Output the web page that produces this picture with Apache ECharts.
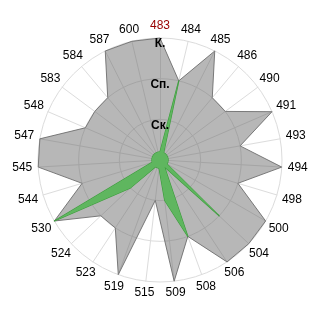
<!DOCTYPE html>
<html><head><meta charset="utf-8">
<script src="https://cdn.jsdelivr.net/npm/echarts@6/dist/echarts.min.js"></script>
<style>html,body{margin:0;padding:0;background:#fff;}#c{width:320px;height:320px;}</style>
</head><body><div id="c"></div>
<script>
// Indicators in clockwise order starting from the top
const categories = ['483','484','485','486','490','491','493','494','498','500','504','506','508','509','515','519','523','524','530','544','545','547','548','583','584','587','600'];
const zoneLabels = ['', 'Ск.', 'Сп.', 'К.'];
const greyValues = [3,2,3,2,2,3,2,3,2,3,3,3,2,3,1,3,2,2,3,2,3,3,2,2,2,3,3];
const greenValues = [0.2,2,0.2,0.2,0.2,0.2,0.2,0.2,0.2,0.2,2,0.2,2,1,0.2,0.2,0.2,1,3,0.2,0.2,0.2,0.2,0.2,0.2,0.2,0.2];
const highlighted = '483';
const maxValue = 3;

// ECharts places indicators counter-clockwise: reverse all but the first
function toCCW(arr) { return [arr[0]].concat(arr.slice(1).reverse()); }

const n = categories.length;
const FONT = 'Liberation Sans';
// distance of a centred name from the ring: more room sideways (wide text) than up/down
const GAP_X = 16, GAP_Y = 12;

function nameGapFor(clockwiseIndex) {
  const a = clockwiseIndex * 2 * Math.PI / n;
  const s = Math.sin(a), c = Math.cos(a);
  return GAP_X * s * s + GAP_Y * c * c;
}

const cwIndex = categories.map(function (_, i) { return i; });
const ccwIndex = toCCW(cwIndex);

const indicators = ccwIndex.map(function (ci) {
  const name = categories[ci];
  const ind = {
    name: name, min: 0, max: maxValue,
    nameGap: nameGapFor(ci),
    nameTextStyle: { align: 'center', verticalAlign: 'middle' }
  };
  if (name === highlighted) ind.color = '#990000';
  return ind;
});

const labelIndicators = ccwIndex.map(function (ci) {
  const ind = { name: '', min: 0, max: maxValue };
  if (categories[ci] === highlighted) {
    ind.axisLabel = {
      show: true, margin: 0, align: 'center', verticalAlign: 'top',
      color: '#000', fontWeight: 'bold', fontSize: 12, fontFamily: FONT,
      showMinLabel: false,
      formatter: function (v) { return zoneLabels[Math.round(v)] || ''; }
    };
  }
  return ind;
});

const chart = echarts.init(document.getElementById('c'), null, { renderer: 'canvas' });
chart.setOption({
  animation: false,
  backgroundColor: '#fff',
  radar: [{
    center: ['50%', '50%'],
    radius: 122,
    startAngle: 90,
    shape: 'circle',
    splitNumber: 3,
    indicator: indicators,
    axisName: { color: '#000', fontSize: 12, fontFamily: FONT },
    axisNameGap: 12,
    axisLine: { show: true, lineStyle: { color: '#dcdcdc', width: 1 } },
    splitLine: { show: true, lineStyle: { color: '#dcdcdc', width: 1 } },
    splitArea: { show: false },
    axisTick: { show: false },
    axisLabel: { show: false }
  }, {
    z: 10,
    center: ['50%', '50%'],
    radius: 122,
    startAngle: 90,
    shape: 'circle',
    splitNumber: 3,
    indicator: labelIndicators,
    axisName: { show: false },
    axisLine: { show: false },
    splitLine: { show: false },
    splitArea: { show: false },
    axisTick: { show: false },
    axisLabel: { show: false }
  }],
  series: [{
    type: 'radar',
    radarIndex: 0,
    silent: true,
    symbol: 'none',
    data: [
      {
        value: toCCW(greyValues),
        lineStyle: { color: '#7f7f7f', width: 1 },
        areaStyle: { color: 'rgba(105,105,105,0.48)', opacity: 1 }
      },
      {
        value: toCCW(greenValues),
        lineStyle: { color: '#3c9c3c', width: 1.2 },
        areaStyle: { color: '#5fb65f', opacity: 1 }
      }
    ]
  }]
});
</script>
</body></html>
